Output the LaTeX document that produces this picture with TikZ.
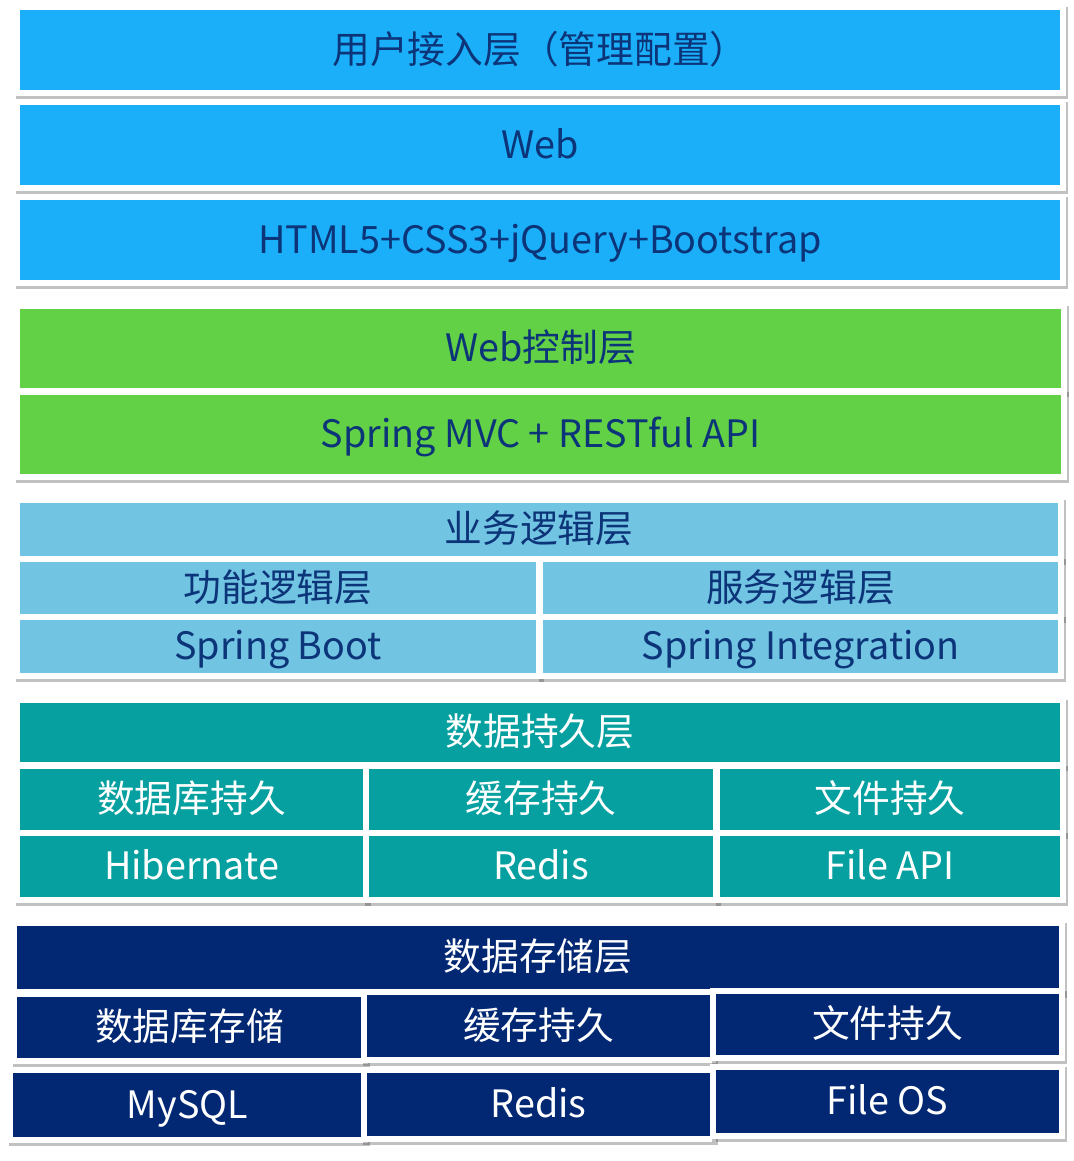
\documentclass[tikz,border=0pt]{standalone}
\usepackage{fontspec}
\setmainfont{Noto Sans CJK SC}
\usetikzlibrary{shadows}
\definecolor{cBlue}{HTML}{1BAFFA}
\definecolor{cGreen}{HTML}{62D146}
\definecolor{cLight}{HTML}{72C4E3}
\definecolor{cTeal}{HTML}{05A09F}
\definecolor{cNavy}{HTML}{022874}
\definecolor{cText}{HTML}{0C3478}
\tikzset{
  cell/.style={fill=white, draw=none, inner sep=0pt, outer sep=0pt,
    drop shadow={shadow xshift=1.2pt, shadow yshift=-2pt, opacity=0.3, fill=black!80},
    font=\fontsize{28.3}{34}\selectfont, text height=22.6pt, text depth=2.4pt,
    path picture={\fill[#1] ([xshift=4.5pt,yshift=4.5pt]path picture bounding box.south west)
      rectangle ([xshift=-4.5pt,yshift=-4.5pt]path picture bounding box.north east);}},
  blue/.style={cell=cBlue, text=cText},
  green/.style={cell=cGreen, text=cText},
  light/.style={cell=cLight, text=cText},
  teal/.style={cell=cTeal, text=white},
  navy/.style={cell=cNavy, text=white},
}
% #1 style, #2 name, #3 x1, #4 y1, #5 x2, #6 y2 (coloured area, px), #7 text
\newcommand\cellnode[7]{%
  \pgfmathsetmacro\cellw{(#5-#3)*0.75+9}%
  \pgfmathsetmacro\cellh{(#6-#4)*0.75+9}%
  \node[#1, minimum width=\cellw pt, minimum height=\cellh pt] (#2) at ({(#3+#5)/2},{(#4+#6)/2}) {#7};}
\begin{document}
\begin{tikzpicture}[x=0.75pt, y=-0.75pt]
\useasboundingbox[fill=white] (0,0) rectangle (1074,1161);
% blue group
\cellnode{blue}{u1}{20}{10}{1060}{90}{用户接入层（管理配置）}
\cellnode{blue}{u2}{20}{105}{1060}{185}{Web}
\cellnode{blue}{u3}{20}{200}{1060}{280}{HTML5+CSS3+jQuery+Bootstrap}
% green group
\cellnode{green}{c1}{20}{309}{1061}{388}{Web控制层}
\cellnode{green}{c2}{20}{395}{1061}{474}{Spring MVC + RESTful API}
% business group
\cellnode{light}{b0}{20}{503}{1058}{556}{业务逻辑层}
\cellnode{light}{b1}{20}{562}{536}{614}{功能逻辑层}
\cellnode{light}{b2}{543}{562}{1058}{614}{服务逻辑层}
\cellnode{light}{b3}{20}{620}{536}{673}{Spring Boot}
\cellnode{light}{b4}{543}{620}{1058}{673}{Spring Integration}
% persistence group
\cellnode{teal}{p0}{20}{703}{1060}{762}{数据持久层}
\cellnode{teal}{p1}{20}{769}{363}{830}{数据库持久}
\cellnode{teal}{p2}{369}{769}{713}{830}{缓存持久}
\cellnode{teal}{p3}{720}{769}{1060}{830}{文件持久}
\cellnode{teal}{p4}{20}{836}{363}{897}{Hibernate}
\cellnode{teal}{p5}{369}{836}{713}{897}{Redis}
\cellnode{teal}{p6}{720}{836}{1060}{897}{File API}
% storage group
\cellnode{navy}{s0}{17}{926}{1059}{989}{数据存储层}
\cellnode{navy}{s1}{17}{997}{362}{1058}{数据库存储}
\cellnode{navy}{s2}{367}{995}{710}{1057}{缓存持久}
\cellnode{navy}{s3}{716}{994}{1059}{1055}{文件持久}
\cellnode{navy}{s4}{13}{1073}{362}{1137}{MySQL}
\cellnode{navy}{s5}{367}{1073}{710}{1136}{Redis}
\cellnode{navy}{s6}{716}{1070}{1059}{1133}{File OS}
\end{tikzpicture}
\end{document}
